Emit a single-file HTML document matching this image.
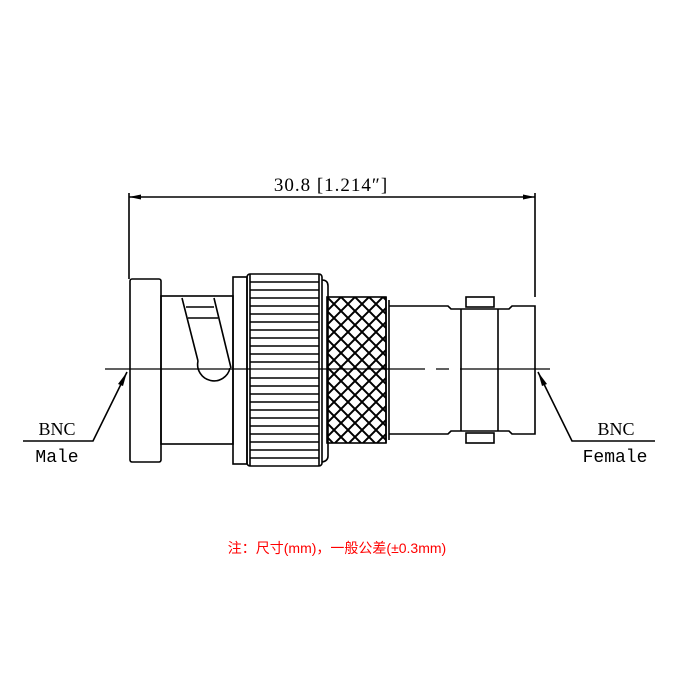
<!DOCTYPE html>
<html><head><meta charset="utf-8"><style>
html,body{margin:0;padding:0;background:#fff;width:680px;height:680px;overflow:hidden}
svg{display:block}
</style></head><body>
<svg width="680" height="680" viewBox="0 0 680 680" xmlns="http://www.w3.org/2000/svg">
<defs>
<pattern id="x" width="14" height="14" patternUnits="userSpaceOnUse" x="327" y="297">
<path d="M0 0L14 14M14 0L0 14M-7 7L7 21M7 -7L21 7M7 -7L-7 7M21 7L7 21" stroke="#000" stroke-width="2"/>
</pattern>
</defs>
<g fill="none" stroke="#000" stroke-width="1.6">
<line x1="129" y1="193" x2="129" y2="279"/>
<line x1="535" y1="193" x2="535" y2="297"/>
<line x1="129" y1="197" x2="535" y2="197"/>
<rect x="130" y="279" width="31" height="183" rx="2"/>
<rect x="161" y="296" width="72" height="148"/>
<path d="M182 298 L198 361 M214 298 L231 368"/>
<path d="M186 307 L214 307 M188 318 L218 318"/>
<path d="M198 361 A14 14 0 1 0 230 368"/>
<rect x="233" y="277" width="14" height="187"/>
<rect x="247" y="274" width="75" height="192" rx="3"/>
<line x1="250" y1="274" x2="250" y2="466"/>
<line x1="319" y1="274" x2="319" y2="466"/>
<path d="M250 282H319M250 290H319M250 298H319M250 306H319M250 314H319M250 322H319M250 330H319M250 338H319M250 346H319M250 354H319M250 362H319M250 378H319M250 386H319M250 394H319M250 402H319M250 410H319M250 418H319M250 426H319M250 434H319M250 442H319M250 450H319M250 458H319" stroke-width="1.4"/>
<path d="M322 280 Q328 280 328 286 L328 456 Q328 461 322 462"/>
<rect x="327" y="297" width="59" height="146" fill="url(#x)"/>
<line x1="386" y1="297" x2="386" y2="443"/>
<line x1="389" y1="300" x2="389" y2="440"/>
<path d="M389 306 L448 306 L451 309 L509 309 L512 306 L535 306 L535 434 L512 434 L509 431 L451 431 L448 434 L389 434"/>
<line x1="461" y1="309" x2="461" y2="431"/>
<line x1="498" y1="309" x2="498" y2="431"/>
<rect x="466" y="297" width="28" height="10"/>
<rect x="466" y="433" width="28" height="10"/>
<path d="M105 369 L425 369 M436 369 L449 369 M460 369 L550 369" stroke-width="1.2"/>
<path d="M127 372 L93 441 L23 441"/>
<path d="M538 372 L572 441 L655 441"/>
</g>
<g fill="#000">
<path d="M129 197 L141 194.5 L141 199.5Z"/>
<path d="M535 197 L523 194.5 L523 199.5Z"/>
<path d="M127 372 L118 384 L123 386Z"/>
<path d="M538 372 L542 386 L547 384Z"/>
</g>
<g font-family="Liberation Serif, serif" font-size="19" fill="#000">
<text x="331" y="191" text-anchor="middle" letter-spacing="1">30.8 [1.214″]</text>
<text x="57" y="435" text-anchor="middle" font-size="18">BNC</text>
<text x="616" y="435" text-anchor="middle" font-size="18">BNC</text>
</g>
<g font-family="Liberation Mono, monospace" font-size="18" fill="#000">
<text x="57" y="462" text-anchor="middle">Male</text>
<text x="615" y="462" text-anchor="middle">Female</text>
</g>
<text x="337" y="553" text-anchor="middle" font-family="Liberation Sans, 'Noto Sans CJK SC', sans-serif" font-size="14" fill="#f00">注：尺寸(mm)，一般公差(±0.3mm)</text>
</svg>
</body></html>
